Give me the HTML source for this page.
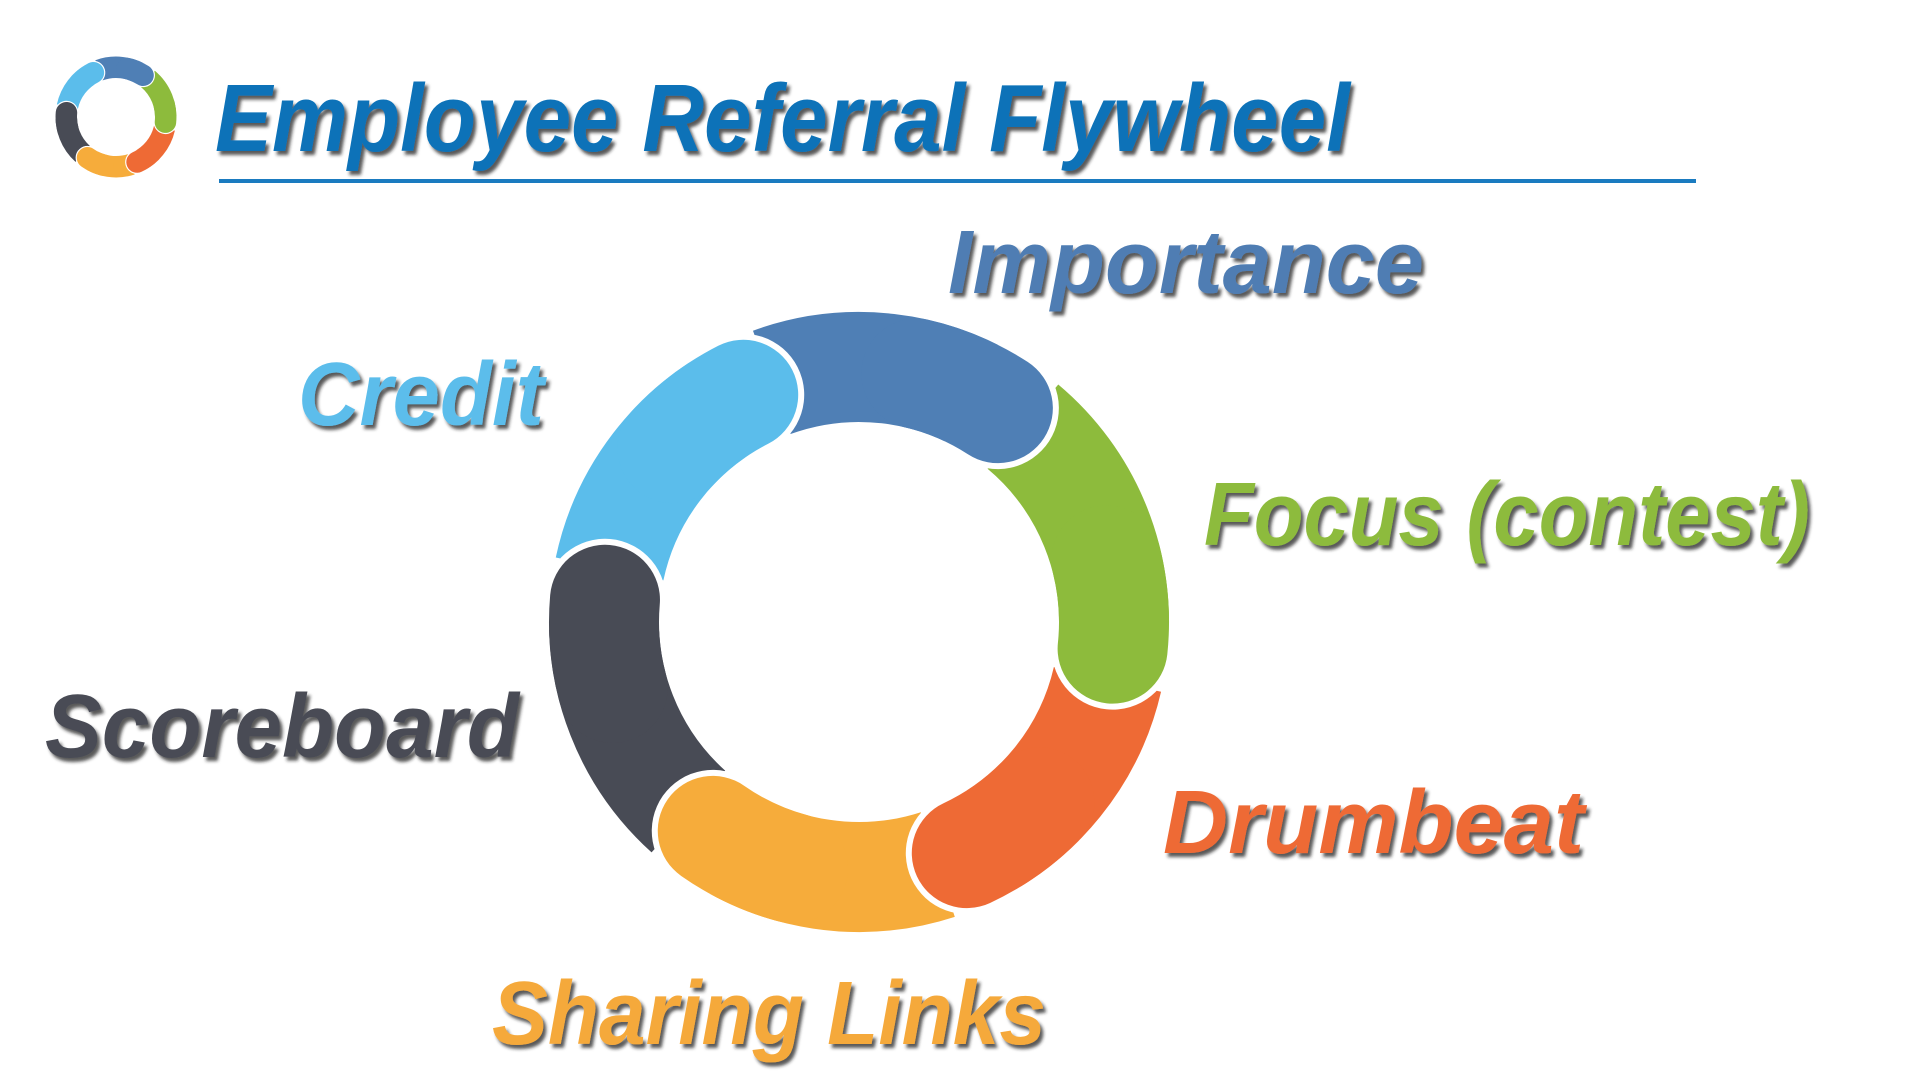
<!DOCTYPE html>
<html><head><meta charset="utf-8"><style>
html,body{margin:0;padding:0;background:#fff;width:1920px;height:1080px;overflow:hidden}
svg text{font-family:"Liberation Sans Narrow","Liberation Sans",sans-serif;font-weight:bold;font-style:italic}
</style></head><body>
<svg width="1920" height="1080" viewBox="0 0 1920 1080" xmlns="http://www.w3.org/2000/svg">
<defs>
<filter id="sh" x="-5%" y="-5%" width="115%" height="130%"><feDropShadow dx="3" dy="4" stdDeviation="1.5" flood-color="#222" flood-opacity="0.75"/></filter>
<g id="ring">
 <g fill="none" stroke-width="110">
  <circle r="255" stroke="#4F7FB5" stroke-dasharray="236 2000" transform="rotate(250)"/>
  <circle r="255" stroke="#8DBB3C" stroke-dasharray="249 2000" transform="rotate(-50)"/>
  <circle r="255" stroke="#EE6A35" stroke-dasharray="231 2000" transform="rotate(13)"/>
  <circle r="255" stroke="#F6AC3B" stroke-dasharray="236 2000" transform="rotate(72)"/>
  <circle r="255" stroke="#484B55" stroke-dasharray="236 2000" transform="rotate(132)"/>
  <circle r="255" stroke="#5BBDEB" stroke-dasharray="227 2000" transform="rotate(192)"/>
 </g>
 <g fill="none" stroke-linecap="round">
  <circle r="255" stroke="#fff" stroke-width="122" stroke-dasharray="4.45 2000" transform="rotate(-58)"/>
  <circle r="255" stroke="#4F7FB5" stroke-width="110" stroke-dasharray="89 2000" transform="rotate(-77)"/>
  <circle r="255" stroke="#fff" stroke-width="122" stroke-dasharray="4.45 2000" transform="rotate(5)"/>
  <circle r="255" stroke="#8DBB3C" stroke-width="110" stroke-dasharray="89 2000" transform="rotate(-14)"/>
  <circle r="255" stroke="#fff" stroke-width="122" stroke-dasharray="4.45 2000" transform="rotate(64)"/>
  <circle r="255" stroke="#EE6A35" stroke-width="110" stroke-dasharray="89 2000" transform="rotate(45)"/>
  <circle r="255" stroke="#fff" stroke-width="122" stroke-dasharray="4.45 2000" transform="rotate(124)"/>
  <circle r="255" stroke="#F6AC3B" stroke-width="110" stroke-dasharray="89 2000" transform="rotate(105)"/>
  <circle r="255" stroke="#fff" stroke-width="122" stroke-dasharray="4.45 2000" transform="rotate(184)"/>
  <circle r="255" stroke="#484B55" stroke-width="110" stroke-dasharray="89 2000" transform="rotate(165)"/>
  <circle r="255" stroke="#fff" stroke-width="122" stroke-dasharray="4.45 2000" transform="rotate(242)"/>
  <circle r="255" stroke="#5BBDEB" stroke-width="110" stroke-dasharray="89 2000" transform="rotate(223)"/>
 </g>
</g>
</defs>
<use href="#ring" transform="translate(859,622)"/>
<use href="#ring" transform="translate(116,117) scale(0.195)"/>
<text x="215" y="151" font-size="96" fill="#0A72B8" textLength="1135" lengthAdjust="spacingAndGlyphs" filter="url(#sh)">Employee Referral Flywheel</text>
<rect x="219" y="179" width="1477" height="4" fill="#1A7BC0"/>
<g font-size="90" filter="url(#sh)">
<text x="948" y="293" fill="#4F7DB3" textLength="476" lengthAdjust="spacingAndGlyphs">Importance</text>
<text x="298" y="425" fill="#5BBDEB" textLength="246" lengthAdjust="spacingAndGlyphs">Credit</text>
<text x="1204" y="545" fill="#8DBB3C" textLength="606" lengthAdjust="spacingAndGlyphs">Focus (contest)</text>
<text x="45" y="757" fill="#484B55" textLength="474" lengthAdjust="spacingAndGlyphs">Scoreboard</text>
<text x="1163" y="853" fill="#EE6A35" textLength="421" lengthAdjust="spacingAndGlyphs">Drumbeat</text>
<text x="492" y="1044" fill="#F5A93A" textLength="554" lengthAdjust="spacingAndGlyphs">Sharing Links</text>
</g>
</svg>
</body></html>
